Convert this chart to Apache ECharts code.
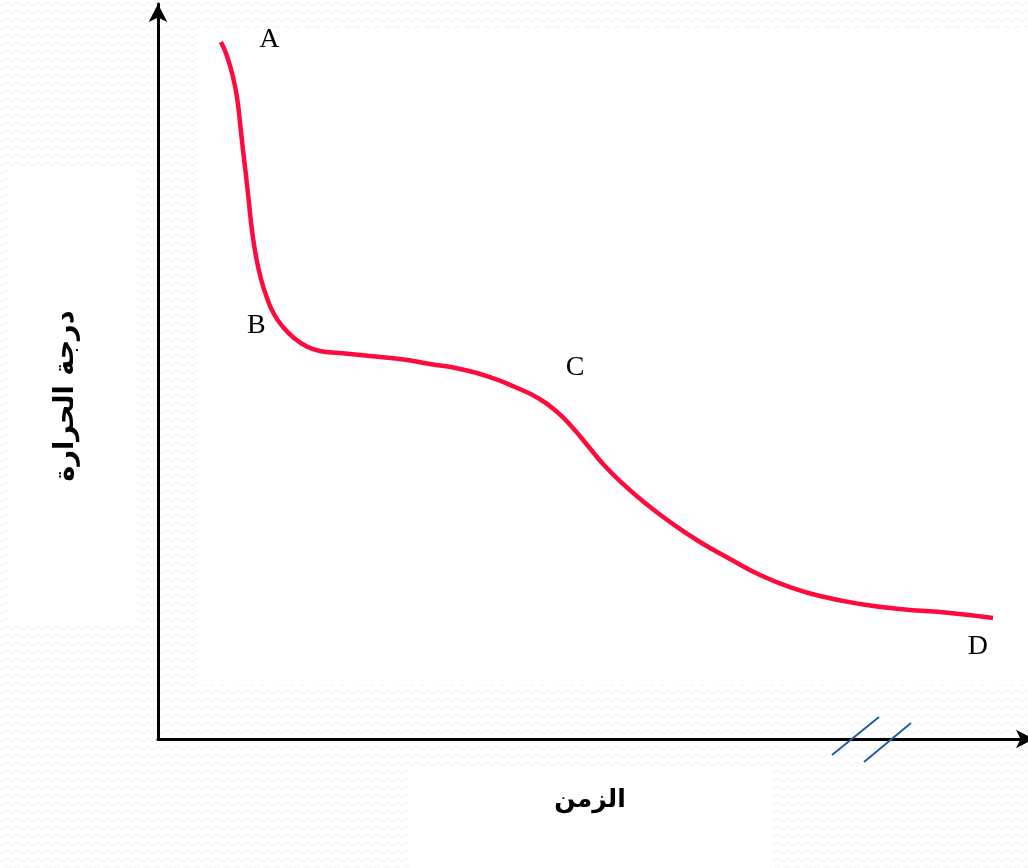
<!DOCTYPE html>
<html>
<head>
<meta charset="utf-8">
<script src="https://cdn.jsdelivr.net/npm/echarts@6/dist/echarts.min.js"></script>
<style>
html,body{margin:0;padding:0;background:#fff;}
#main{width:1028px;height:868px;}
</style>
</head>
<body>
<div id="main"></div>
<script>
// Time (x, arbitrary units 0-100) and temperature (y, arbitrary units 0-100)
var timeValues = [7.24, 7.93, 8.62, 9.08, 9.43, 9.77, 10.11, 10.46, 10.80, 11.26, 11.84, 12.53, 13.33, 14.37, 15.63, 17.01, 18.62, 20.92, 24.37, 27.82, 31.26, 34.71, 38.16, 41.03, 43.68, 45.75, 47.59, 49.43, 51.26, 53.33, 55.98, 58.85, 62.30, 65.75, 69.20, 72.64, 76.09, 80.69, 85.29, 91.03, 95.98];
var tempValues = [95.35, 93.43, 90.56, 87.82, 84.27, 80.57, 77.15, 73.32, 69.63, 66.07, 62.93, 60.33, 58.14, 56.36, 54.86, 53.76, 53.08, 52.80, 52.39, 51.98, 51.30, 50.62, 49.52, 48.15, 46.65, 44.87, 42.68, 40.08, 37.48, 35.02, 32.28, 29.69, 26.95, 24.62, 22.43, 20.79, 19.56, 18.47, 17.78, 17.24, 16.55];
var pointNames = ['A', 'B', 'C', 'D'];
var pointTime = [12.8, 11.3, 47.93, 94.25];
var pointTemp = [95.7, 56.6, 50.8, 12.6];
var xAxisName = 'الزمن';
var yAxisName = 'درجة الحرارة';

var curve = timeValues.map(function (t, i) { return [t, tempValues[i]]; });
var letters = pointNames.map(function (n, i) { return { name: n, value: [pointTime[i], pointTemp[i]] }; });

// faint wave texture for the page background
var pat = document.createElement('canvas');
pat.width = 10; pat.height = 8;
var pc = pat.getContext('2d');
pc.fillStyle = '#ffffff';
pc.fillRect(0, 0, 10, 8);
pc.strokeStyle = '#ececec';
pc.lineWidth = 1;
pc.beginPath();
for (var k = 0; k <= 10; k += 0.5) {
  var yy = 4 + 1.6 * Math.sin(k / 10 * Math.PI * 2);
  if (k === 0) pc.moveTo(k, yy); else pc.lineTo(k, yy);
}
pc.stroke();

var chart = echarts.init(document.getElementById('main'), null, { renderer: 'canvas' });
chart.setOption({
  backgroundColor: '#ffffff',
  animation: false,
  graphic: [
    { type: 'rect', z: -10, silent: true, shape: { x: 0, y: 0, width: 1028, height: 868 }, style: { fill: { image: pat, repeat: 'repeat' } } },
    { type: 'rect', z: -9, silent: true, shape: { x: 198, y: 28, width: 830, height: 657 }, style: { fill: '#ffffff' } },
    { type: 'rect', z: -9, silent: true, shape: { x: 8, y: 167, width: 130, height: 458 }, style: { fill: '#ffffff' } },
    { type: 'rect', z: -9, silent: true, shape: { x: 409, y: 767, width: 363, height: 101 }, style: { fill: '#ffffff' } },
    { type: 'line', z: 50, silent: true, shape: { x1: 832, y1: 755, x2: 879, y2: 717 }, style: { stroke: '#1f5f9f', lineWidth: 2 } },
    { type: 'line', z: 50, silent: true, shape: { x1: 864, y1: 762, x2: 911, y2: 723 }, style: { stroke: '#1f5f9f', lineWidth: 2 } },
    { type: 'text', z: 50, silent: true, x: 590, y: 800, style: { text: xAxisName, font: 'bold 25px "DejaVu Sans", "Liberation Sans", sans-serif', fill: '#000', align: 'center', verticalAlign: 'middle' } },
    { type: 'text', z: 50, silent: true, x: 66, y: 396, rotation: Math.PI / 2, style: { text: yAxisName, font: 'bold 27px "DejaVu Sans", "Liberation Sans", sans-serif', fill: '#000', align: 'center', verticalAlign: 'middle' } }
  ],
  grid: { left: 158, right: 0, top: 4, bottom: 129, containLabel: false },
  xAxis: {
    type: 'value', min: 0, max: 100,
    axisLine: { show: true, onZero: false, symbol: ['none', 'arrow'], symbolSize: [14, 18], symbolOffset: [0, 6], lineStyle: { color: '#000', width: 3 } },
    axisTick: { show: false }, axisLabel: { show: false }, splitLine: { show: false }
  },
  yAxis: {
    type: 'value', min: 0, max: 100.55,
    axisLine: { show: true, onZero: false, symbol: ['none', 'arrow'], symbolSize: [14, 18], lineStyle: { color: '#000', width: 3 } },
    axisTick: { show: false }, axisLabel: { show: false }, splitLine: { show: false }
  },
  series: [
    {
      type: 'line', data: curve, smooth: 0.5, showSymbol: false, symbol: 'none',
      lineStyle: { color: '#ff0a3c', width: 4.5 }, z: 5
    },
    {
      type: 'scatter', data: letters, symbolSize: 0, z: 6,
      itemStyle: { opacity: 1 },
      label: { show: true, position: 'inside', formatter: '{b}', fontFamily: '"Liberation Serif", "Times New Roman", serif', fontSize: 28, color: '#000', opacity: 1, textBorderWidth: 0 }
    }
  ]
});
</script>
</body>
</html>
